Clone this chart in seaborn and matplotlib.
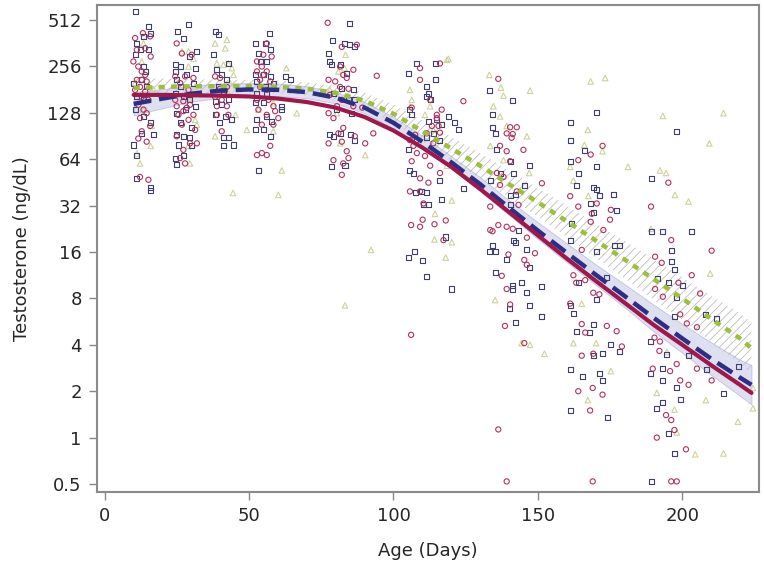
import numpy as np
import pandas as pd
import matplotlib
matplotlib.use("Agg")
import matplotlib.pyplot as plt
import seaborn as sns

navy_pts = [
    (10.8, 580), (15.1, 463), (15.7, 420), (13.4, 400), (11.1, 360), (12.2, 327), (15.1, 327), (10.5, 304),
    (13.4, 255), (14.0, 237), (12.8, 209), (9.9, 199), (14.5, 188), (11.1, 162), (13.4, 155), (10.5, 134),
    (13.4, 121), (15.7, 110), (16.8, 92), (12.8, 94), (9.9, 79), (11.1, 68), (11.1, 48), (15.7, 40), (15.7, 42),
    (25.2, 430), (27.2, 390), (29.0, 475), (24.4, 262), (26.1, 255), (29.5, 296), (31.9, 320), (24.4, 237),
    (28.4, 225), (31.3, 249), (24.9, 209), (26.1, 188), (30.7, 199), (24.4, 171), (27.2, 162), (29.5, 155),
    (31.3, 141), (24.9, 127), (27.8, 134), (26.1, 111), (30.1, 102), (24.9, 92), (27.2, 90), (29.5, 88),
    (25.5, 79), (30.1, 78), (27.2, 68), (24.4, 65), (24.9, 59),
    (38.2, 430), (39.4, 409), (37.6, 304), (38.8, 243), (42.8, 267), (40.5, 225), (42.3, 209), (39.4, 188),
    (41.1, 176), (42.8, 155), (38.2, 152), (40.5, 144), (38.2, 124), (41.7, 121), (39.9, 111), (44.0, 115),
    (41.1, 88), (42.8, 88), (44.6, 79), (41.1, 78),
    (56.9, 420), (52.1, 360), (55.5, 360), (57.3, 327), (53.2, 310), (53.8, 275), (56.1, 275), (52.1, 225),
    (54.9, 225), (57.3, 220), (52.7, 204), (55.5, 188), (58.4, 199), (62.5, 220), (64.2, 209), (52.7, 171),
    (56.1, 171), (52.1, 148), (54.9, 148), (61.3, 141), (61.3, 134), (56.1, 121), (52.7, 115), (57.8, 113),
    (54.9, 99), (52.1, 99), (57.3, 90), (53.2, 54),
    (84.8, 484), (78.8, 376), (83.0, 360), (84.8, 353), (86.6, 342), (77.5, 310), (78.0, 275), (78.6, 262),
    (81.5, 262), (83.8, 229), (82.1, 183), (86.1, 180), (79.2, 171), (84.4, 155), (86.6, 155), (80.4, 134),
    (85.6, 127), (78.0, 92), (79.2, 90), (81.5, 94), (85.0, 92), (86.6, 85), (78.6, 57), (83.2, 58),
    (108.1, 267), (105.2, 231), (114.4, 265), (114.4, 209), (111.5, 189), (112.1, 171), (111.5, 162),
    (112.7, 155), (105.7, 134), (106.3, 124), (119.0, 121), (112.1, 113), (115.0, 115), (121.3, 111),
    (116.7, 107), (122.5, 99), (113.8, 94), (111.5, 88), (116.1, 85), (105.2, 73.5), (105.7, 54), (106.9, 52),
    (124.2, 41.5), (116.1, 46.4), (107.5, 38.6), (109.8, 39.5), (111.5, 38.6), (116.7, 34.8), (110.4, 32.3),
    (112.1, 32.3), (117.9, 20.0), (105.2, 14.8), (107.3, 16.0), (110.1, 14.0), (111.3, 11.1), (120.2, 9.2),
    (133.2, 178), (141.3, 153), (134.3, 124), (134.4, 102), (135.2, 94), (135.8, 73.5), (136.9, 52),
    (140.4, 62), (141.5, 52), (147.1, 58.5), (145.3, 43), (133.5, 46.4), (140.4, 36.9), (142.1, 37.5),
    (140.4, 32.3), (143.3, 22.2), (141.5, 19.1), (142.1, 18.5), (146.2, 16.5), (134.4, 17.7), (135.2, 16.2),
    (133.2, 16.0), (139.2, 14.2), (147.1, 12.6), (135.2, 11.7), (141.3, 9.7), (141.3, 9.2), (144.4, 10.2),
    (146.2, 8.7), (151.4, 9.5), (140.2, 6.9), (147.1, 7.2), (151.4, 6.1), (142.1, 5.6),
    (161.2, 110), (161.2, 85), (170.2, 128), (166.0, 73), (170.2, 57), (161.2, 62), (164.0, 52), (163.3, 43),
    (169.2, 41.8), (170.4, 40.8), (171.3, 37.3), (176.2, 37.6), (168.3, 33), (177.1, 29.5), (169.2, 29),
    (161.5, 24.3), (161.2, 19.1), (176.4, 17.5), (178.3, 17.5), (170.2, 16.1), (164.0, 10.1), (173.9, 11.0),
    (170.2, 7.9), (161.2, 7.2), (162.3, 6.4), (169.2, 5.4), (163.3, 4.9), (167.9, 4.8), (175.0, 4.0),
    (178.3, 3.6), (169.2, 3.4), (172.5, 3.5), (161.2, 2.75), (165.6, 2.5), (171.3, 2.6), (161.2, 1.5),
    (174.1, 1.35), (172.4, 2.35),
    (198.1, 97), (189.2, 48), (189.5, 21.8), (193.3, 21.8), (203.3, 21.8), (196.2, 16.3), (196.2, 13.9),
    (197.3, 12.4), (191.5, 10.8), (195.2, 10.1), (200.2, 9.7), (198.1, 8.1), (197.3, 6.1), (207.9, 6.3),
    (212.0, 5.9), (189.1, 4.2), (202.2, 3.4), (194.7, 3.45), (188.9, 2.6), (193.3, 2.8), (208.5, 2.75),
    (219.5, 2.9), (189.5, 0.52), (197.3, 0.79), (191.2, 1.55), (193.3, 1.7), (195.2, 1.06), (199.3, 1.76),
    (214.3, 1.93), (193.3, 2.35), (198.1, 2.1),
]

red_pts = [
    (13.2, 420), (10.5, 390), (15.7, 400), (14.0, 335), (11.1, 327), (15.9, 296), (9.9, 275), (11.6, 255),
    (12.8, 237), (14.0, 225), (11.1, 209), (12.8, 209), (14.5, 204), (12.2, 188), (10.5, 180), (14.0, 176),
    (12.8, 162), (15.1, 155), (11.6, 144), (13.4, 134), (14.5, 127), (12.2, 118), (15.7, 105), (12.8, 97),
    (11.6, 87), (14.5, 83), (12.2, 49), (15.1, 47),
    (24.9, 360), (26.7, 310), (30.1, 304), (24.4, 220), (27.8, 220), (30.7, 215), (26.1, 199), (29.0, 180),
    (24.4, 155), (27.2, 152), (29.5, 144), (24.9, 141), (28.4, 138), (27.2, 131), (30.7, 124), (25.5, 124),
    (29.0, 115), (26.7, 107), (31.3, 99), (24.9, 90), (29.5, 81), (31.9, 81), (27.2, 73.5), (26.1, 65),
    (27.8, 60),
    (39.9, 215), (38.2, 220), (42.3, 188), (39.9, 183), (41.1, 167), (38.2, 162), (40.5, 155), (38.8, 141),
    (42.3, 141), (42.8, 124), (40.5, 97), (38.8, 124),
    (56.1, 360), (54.9, 304), (57.8, 296), (52.7, 275), (54.4, 255), (56.1, 237), (52.7, 237), (54.9, 225),
    (53.8, 209), (57.3, 204), (53.8, 188), (56.1, 180), (52.7, 155), (56.7, 155), (58.4, 141), (53.2, 134),
    (59.0, 131), (56.1, 124), (60.1, 118), (54.4, 107), (58.4, 107), (52.7, 68), (54.4, 70), (56.1, 68),
    (57.3, 78),
    (77.2, 490), (82.1, 342), (87.3, 353), (81.5, 255), (86.1, 243), (82.6, 225), (83.8, 215), (77.5, 209),
    (79.8, 204), (81.5, 188), (84.4, 183), (78.0, 167), (82.1, 155), (80.4, 141), (86.1, 141), (77.5, 127),
    (79.2, 118), (82.6, 102), (80.9, 94), (86.6, 90), (77.5, 81), (82.1, 83), (83.8, 72), (79.2, 63),
    (82.6, 60), (84.4, 65), (82.1, 50.6), (89.2, 138), (93.0, 94), (90.2, 81), (94.2, 222),
    (116.1, 267), (109.2, 249), (109.2, 209), (112.7, 155), (115.0, 124), (106.3, 138), (115.0, 118),
    (113.3, 105), (115.6, 105), (111.5, 94), (107.5, 92), (116.1, 95), (108.1, 85), (105.7, 85), (106.9, 78),
    (113.8, 81), (108.1, 70), (110.9, 67), (106.3, 62), (112.7, 58), (116.1, 52), (109.2, 48), (112.1, 45),
    (105.7, 39.5), (109.2, 39.5), (124.2, 152), (116.7, 134), (110.4, 33.0), (110.1, 25.9), (106.1, 23.9),
    (109.2, 23.3), (114.2, 24.2), (118.1, 25.6), (117.3, 19.1), (106.1, 4.64),
    (136.3, 212), (140.4, 103), (141.3, 93), (142.7, 103), (139.2, 94), (140.9, 88), (136.9, 78), (139.2, 72),
    (140.4, 62), (135.8, 52), (138.1, 49), (145.0, 73.5), (151.4, 44.6), (136.9, 43.5), (142.7, 39.5),
    (143.3, 32.3), (133.5, 31.5), (134.3, 21.8), (136.3, 23.9), (139.2, 23.3), (141.3, 22.6), (146.2, 19.8),
    (149.0, 15.7), (139.8, 15.4), (145.3, 14.2), (146.2, 13.2), (137.5, 11.2), (139.2, 9.2), (140.4, 7.3),
    (138.6, 5.3), (145.3, 4.1), (133.5, 22.2), (136.3, 1.13), (139.2, 0.52),
    (172.4, 78), (168.3, 68.5), (164.0, 63), (161.2, 36.8), (170.4, 33), (164.0, 31.5), (168.7, 28.3),
    (175.3, 30), (168.3, 25.1), (175.0, 25.9), (172.7, 22.2), (165.2, 16.5), (162.3, 11.3), (163.3, 10.1),
    (166.4, 10.5), (169.2, 8.7), (171.3, 8.5), (161.2, 7.4), (165.2, 5.45), (173.9, 5.3), (166.4, 4.8),
    (177.3, 4.9), (179.1, 3.9), (165.2, 3.4), (169.2, 3.5), (169.0, 0.52), (168.1, 1.5), (164.0, 2.0),
    (169.0, 2.1), (172.4, 1.9),
    (195.2, 45), (189.2, 31.5), (196.2, 19.1), (210.2, 16.3), (190.6, 14.9), (192.9, 13.6), (203.3, 11.3),
    (198.7, 10.1), (190.6, 9.2), (206.2, 8.6), (193.3, 8.2), (199.3, 6.3), (201.6, 5.5), (205.1, 5.2),
    (190.4, 4.45), (192.3, 4.2), (192.1, 3.65), (189.8, 2.8), (198.1, 3.0), (195.8, 2.7), (205.1, 2.8),
    (196.2, 0.52), (198.1, 0.52), (191.2, 1.0), (201.3, 0.84), (197.3, 1.12), (194.4, 1.4), (196.2, 1.3),
    (199.3, 2.35), (202.2, 2.2), (210.2, 2.35),
]

green_pts = [
    (13.4, 360), (12.8, 275), (10.5, 199), (16.8, 183), (13.4, 134), (16.3, 105), (15.9, 78), (11.1, 69.5),
    (12.2, 60),
    (26.7, 320), (29.0, 320), (30.7, 286), (29.0, 255), (31.3, 188), (29.5, 155), (31.3, 115), (29.0, 78),
    (29.5, 60), (31.9, 107),
    (38.2, 360), (42.3, 380), (41.7, 335), (38.8, 267), (42.8, 267), (41.1, 262), (44.0, 249), (44.6, 225),
    (43.4, 199), (39.9, 180), (42.8, 171), (38.2, 90), (45.3, 124), (49.2, 99), (44.4, 38.6),
    (62.9, 249), (56.1, 188), (58.4, 148), (66.5, 127), (58.4, 97), (61.3, 54), (60.1, 37.5), (53.2, 134),
    (83.4, 304), (80.9, 237), (83.0, 249), (78.0, 180), (80.4, 127), (81.5, 81), (90.2, 68), (92.2, 16.5),
    (83.2, 7.2),
    (105.7, 180), (106.3, 155), (105.7, 140), (118.5, 282), (119.0, 286), (113.8, 99), (118.5, 58),
    (112.7, 141), (110.9, 124), (114.4, 28.3), (114.2, 19.3), (120.2, 18.5), (118.1, 14.7), (120.2, 34.5),
    (133.2, 225), (137.2, 186), (147.3, 178), (134.6, 141), (138.1, 165), (136.9, 121), (139.2, 105),
    (146.2, 90), (133.5, 78), (138.1, 63), (147.0, 52), (135.2, 7.8), (144.4, 4.1), (147.3, 4.0), (152.3, 3.5),
    (168.3, 204), (173.3, 215), (167.3, 99), (166.1, 79), (172.4, 72), (161.2, 57), (181.2, 57), (162.3, 46.4),
    (167.5, 36.9), (165.2, 7.4), (162.3, 4.1), (170.2, 4.1), (175.3, 2.7), (167.3, 1.75),
    (214.3, 127), (193.3, 122), (209.4, 81), (192.3, 54), (194.4, 52), (197.5, 37.5), (202.2, 34),
    (189.2, 22.6), (209.7, 11.6), (194.7, 3.6), (191.2, 1.95), (197.3, 1.52), (208.2, 1.75), (219.3, 1.27),
    (224.5, 1.55), (224.5, 2.1), (204.5, 0.78), (214.3, 0.79), (198.1, 1.08),
]

# fitted curves and confidence bands
fit_age = [10, 20, 30, 40, 50, 60, 70, 80, 90, 100, 110, 120, 130, 140, 150, 160, 170, 180, 190, 200, 210, 220, 224]
red_fit = [167, 167, 166, 165, 163, 158, 150, 138, 120, 98, 76, 57, 41, 29, 20.5, 14.5, 10.4, 7.5, 5.4, 4.0, 2.95, 2.2, 1.95]
blue_fit = [146, 158, 170, 178, 181, 180, 174, 160, 138, 110, 83, 61, 44, 31, 22, 15.8, 11.4, 8.3, 6.0, 4.4, 3.25, 2.45, 2.2]
green_fit = [185, 188, 190, 190, 190, 188, 183, 172, 153, 126, 97, 75, 58, 44, 33.6, 25.3, 19, 14.3, 10.7, 8.0, 5.9, 4.4, 3.8]
blue_lo = [123, 137, 151, 160, 165, 164, 159, 147, 127, 101, 76, 55.5, 39.6, 27.8, 19.4, 13.75, 9.8, 7.0, 4.9, 3.55, 2.55, 1.87, 1.64]
blue_hi = [174, 182, 191, 198, 199, 198, 190, 174, 150, 120, 91, 67, 48.8, 34.6, 24.9, 18.2, 13.3, 9.9, 7.3, 5.45, 4.15, 3.2, 2.95]
green_lo = [159, 166, 171, 173, 173, 171, 166, 155, 136, 110, 83, 63, 48, 36, 27.1, 20, 14.7, 10.8, 7.9, 5.8, 4.2, 3.0, 2.6]
green_hi = [216, 213, 211, 209, 209, 207, 201, 191, 172, 145, 114, 89, 70, 54, 41.7, 32, 24.5, 18.9, 14.4, 11.0, 8.3, 6.4, 5.6]

y_ticks = [0.5, 1, 2, 4, 8, 16, 32, 64, 128, 256, 512]
y_labels = ["0.5", "1", "2", "4", "8", "16", "32", "64", "128", "256", "512"]
x_ticks = [0, 50, 100, 150, 200]

sns.set_style("white")
plt.rcParams["font.family"] = ["DejaVu Sans"]
plt.rcParams["hatch.linewidth"] = 0.6

navy_df = pd.DataFrame(navy_pts, columns=["age", "t"])
red_df = pd.DataFrame(red_pts, columns=["age", "t"])
green_df = pd.DataFrame(green_pts, columns=["age", "t"])
fit = pd.DataFrame({"age": fit_age, "red": red_fit, "blue": blue_fit, "green": green_fit,
                    "blo": blue_lo, "bhi": blue_hi, "glo": green_lo, "ghi": green_hi})

fig = plt.figure(figsize=(7.64, 5.70), dpi=100)
ax = fig.add_axes([97 / 764, 78 / 570, 662 / 764, 487 / 570])
ax.set_yscale("log", base=2)

# bands
ax.fill_between(fit["age"], fit["glo"], fit["ghi"], facecolor="none", edgecolor="#bdbdbd",
                hatch="////", linewidth=0, zorder=1)
ax.fill_between(fit["age"], fit["blo"], fit["bhi"], facecolor="#c3c6e2", alpha=0.55,
                edgecolor="#9ea2cf", linewidth=0.6, zorder=1)

# points
sns.scatterplot(data=green_df, x="age", y="t", marker="^", s=16, facecolors="none",
                edgecolor="#cfd29a", linewidth=0.8, ax=ax, zorder=2)
sns.scatterplot(data=navy_df, x="age", y="t", marker="s", s=13, facecolors="none",
                edgecolor="#3d3f6e", linewidth=0.8, ax=ax, zorder=2)
sns.scatterplot(data=red_df, x="age", y="t", marker="o", s=14, facecolors="none",
                edgecolor="#b0325e", linewidth=0.8, ax=ax, zorder=2)

# fitted curves
sns.lineplot(data=fit, x="age", y="green", color="#9cc03a", linewidth=3.2, ax=ax, zorder=3).lines[-1].set_dashes([1.4, 1.4])
sns.lineplot(data=fit, x="age", y="blue", color="#2c2f86", linewidth=3.2, ax=ax, zorder=4).lines[-1].set_dashes([4, 1.8])
sns.lineplot(data=fit, x="age", y="red", color="#a0174a", linewidth=3.0, ax=ax, zorder=5)

ax.set_xlim(-2.7, 226.6)
ax.set_ylim(0.444, 639)
ax.set_yticks(y_ticks)
ax.set_yticklabels(y_labels)
ax.yaxis.set_minor_locator(plt.NullLocator())
ax.set_xticks(x_ticks)
ax.tick_params(axis="both", which="major", labelsize=13, length=6, width=1, color="#888888",
               direction="out", pad=5, left=True, bottom=True)
for s in ax.spines.values():
    s.set_color("#8a8a8a")
    s.set_linewidth(1.5)

ax.set_xlabel("Age (Days)", fontsize=13, labelpad=12)
ax.set_ylabel("Testosterone (ng/dL)", fontsize=13, labelpad=12)

fig.savefig("out.png", dpi=100)
